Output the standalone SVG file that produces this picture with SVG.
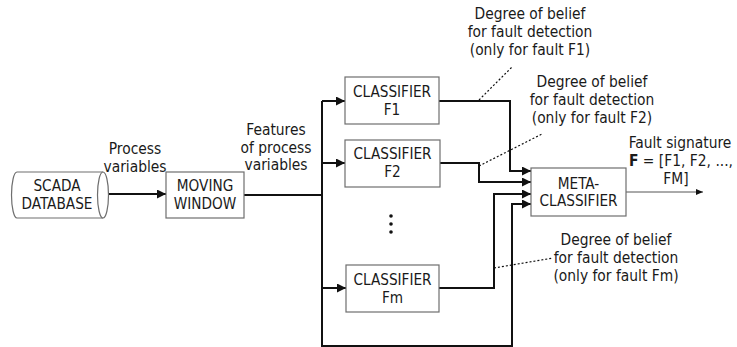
<svg xmlns="http://www.w3.org/2000/svg" width="737" height="347" viewBox="0 0 737 347">
<style>
  .box { fill: #ffffff; stroke: #6e6e6e; stroke-width: 1.2; }
  .t { font-family: "DejaVu Sans Condensed", "DejaVu Sans", Verdana, sans-serif; font-stretch: condensed; font-size: 15.2px; fill: #1a1a1a; text-anchor: middle; }
  .a { font-family: "DejaVu Sans Condensed", "DejaVu Sans", Verdana, sans-serif; font-stretch: condensed; font-size: 15.4px; fill: #1a1a1a; text-anchor: middle; }
  .c { fill: none; stroke: #111111; stroke-width: 2; }
  .thin { fill: none; stroke: #555555; stroke-width: 1; }
  .dot { fill: none; stroke: #111111; stroke-width: 1.2; stroke-dasharray: 2 2; }
</style>
<defs>
  <marker id="ah" markerUnits="userSpaceOnUse" markerWidth="10" markerHeight="9" refX="9" refY="4.5" orient="auto">
    <path d="M0,0 L9,4.5 L0,9 z" fill="#111111"/>
  </marker>
  <marker id="ahs" markerUnits="userSpaceOnUse" markerWidth="8" markerHeight="7" refX="7" refY="3" orient="auto">
    <path d="M0,0 L7,3 L0,6 z" fill="#111111"/>
  </marker>
</defs>
<rect width="737" height="347" fill="#ffffff"/>

<g id="connectors">
  <path class="c" d="M103,194 H166" marker-end="url(#ah)"/>
  <path class="c" d="M244,195 H322"/>
  <path class="c" d="M322,101 V346 H512 V204 H531" marker-end="url(#ah)"/>
  <path class="c" d="M322,101 H345" marker-end="url(#ah)"/>
  <path class="c" d="M322,163 H345" marker-end="url(#ah)"/>
  <path class="c" d="M322,288 H346" marker-end="url(#ah)"/>
  <path class="c" d="M439,101 H510 V171 H531" marker-end="url(#ah)"/>
  <path class="c" d="M440,163 H479 V182 H531" marker-end="url(#ah)"/>
  <path class="c" d="M439,288 H494 V194 H531" marker-end="url(#ah)"/>
  <path class="thin" d="M626,192 H703" marker-end="url(#ahs)"/>
  <path class="dot" d="M479,100 L512,67"/>
  <path class="dot" d="M479,166 L542,134"/>
  <path class="dot" d="M494,268 L553,258"/>
</g>

<g id="scada">
  <path class="box" d="M17,172 H103 A5.5,23 0 0 1 103,218 H17 A5.5,23 0 0 1 17,172 Z"/>
  <path class="box" d="M103,172 A5.5,23 0 0 0 103,218" fill="none"/>
  <text class="t" x="57" y="190.5">SCADA</text>
  <text class="t" x="57" y="209">DATABASE</text>
</g>

<g id="moving-window">
  <rect class="box" x="166" y="172" width="78" height="46"/>
  <text class="t" x="205" y="190.5">MOVING</text>
  <text class="t" x="205" y="209">WINDOW</text>
</g>

<g id="classifier-f1">
  <rect class="box" x="345" y="77" width="94" height="47"/>
  <text class="t" x="392" y="97">CLASSIFIER</text>
  <text class="t" x="392" y="115">F1</text>
</g>

<g id="classifier-f2">
  <rect class="box" x="345" y="140" width="95" height="47"/>
  <text class="t" x="392.5" y="158.5">CLASSIFIER</text>
  <text class="t" x="392.5" y="177">F2</text>
</g>

<g id="ellipsis">
  <circle cx="391" cy="216" r="1.8" fill="#111111"/>
  <circle cx="391" cy="224" r="1.8" fill="#111111"/>
  <circle cx="391" cy="232" r="1.8" fill="#111111"/>
</g>

<g id="classifier-fm">
  <rect class="box" x="346" y="265" width="93" height="47"/>
  <text class="t" x="392.5" y="285">CLASSIFIER</text>
  <text class="t" x="392.5" y="303">Fm</text>
</g>

<g id="meta-classifier">
  <rect class="box" x="531" y="168" width="95" height="48"/>
  <text class="t" x="578.5" y="188.5">META-</text>
  <text class="t" x="578.5" y="206">CLASSIFIER</text>
</g>

<g id="labels">
  <text class="a" x="135" y="154">Process</text>
  <text class="a" x="135" y="171.5">variables</text>
  <text class="a" x="276" y="135">Features</text>
  <text class="a" x="276" y="152.5">of process</text>
  <text class="a" x="276" y="170">variables</text>
  <text class="a" x="530" y="19">Degree of belief</text>
  <text class="a" x="530" y="37">for fault detection</text>
  <text class="a" x="530" y="55">(only for fault F1)</text>
  <text class="a" x="592" y="87">Degree of belief</text>
  <text class="a" x="592" y="105">for fault detection</text>
  <text class="a" x="592" y="123">(only for fault F2)</text>
  <text class="a" x="616" y="245">Degree of belief</text>
  <text class="a" x="616" y="263">for fault detection</text>
  <text class="a" x="616" y="281">(only for fault Fm)</text>
  <text class="a" x="680" y="148">Fault signature</text>
  <text class="a" x="681" y="166"><tspan font-weight="bold">F</tspan> = [F1, F2, ...,</text>
  <text class="a" x="676" y="183.5">FM]</text>
</g>
</svg>
